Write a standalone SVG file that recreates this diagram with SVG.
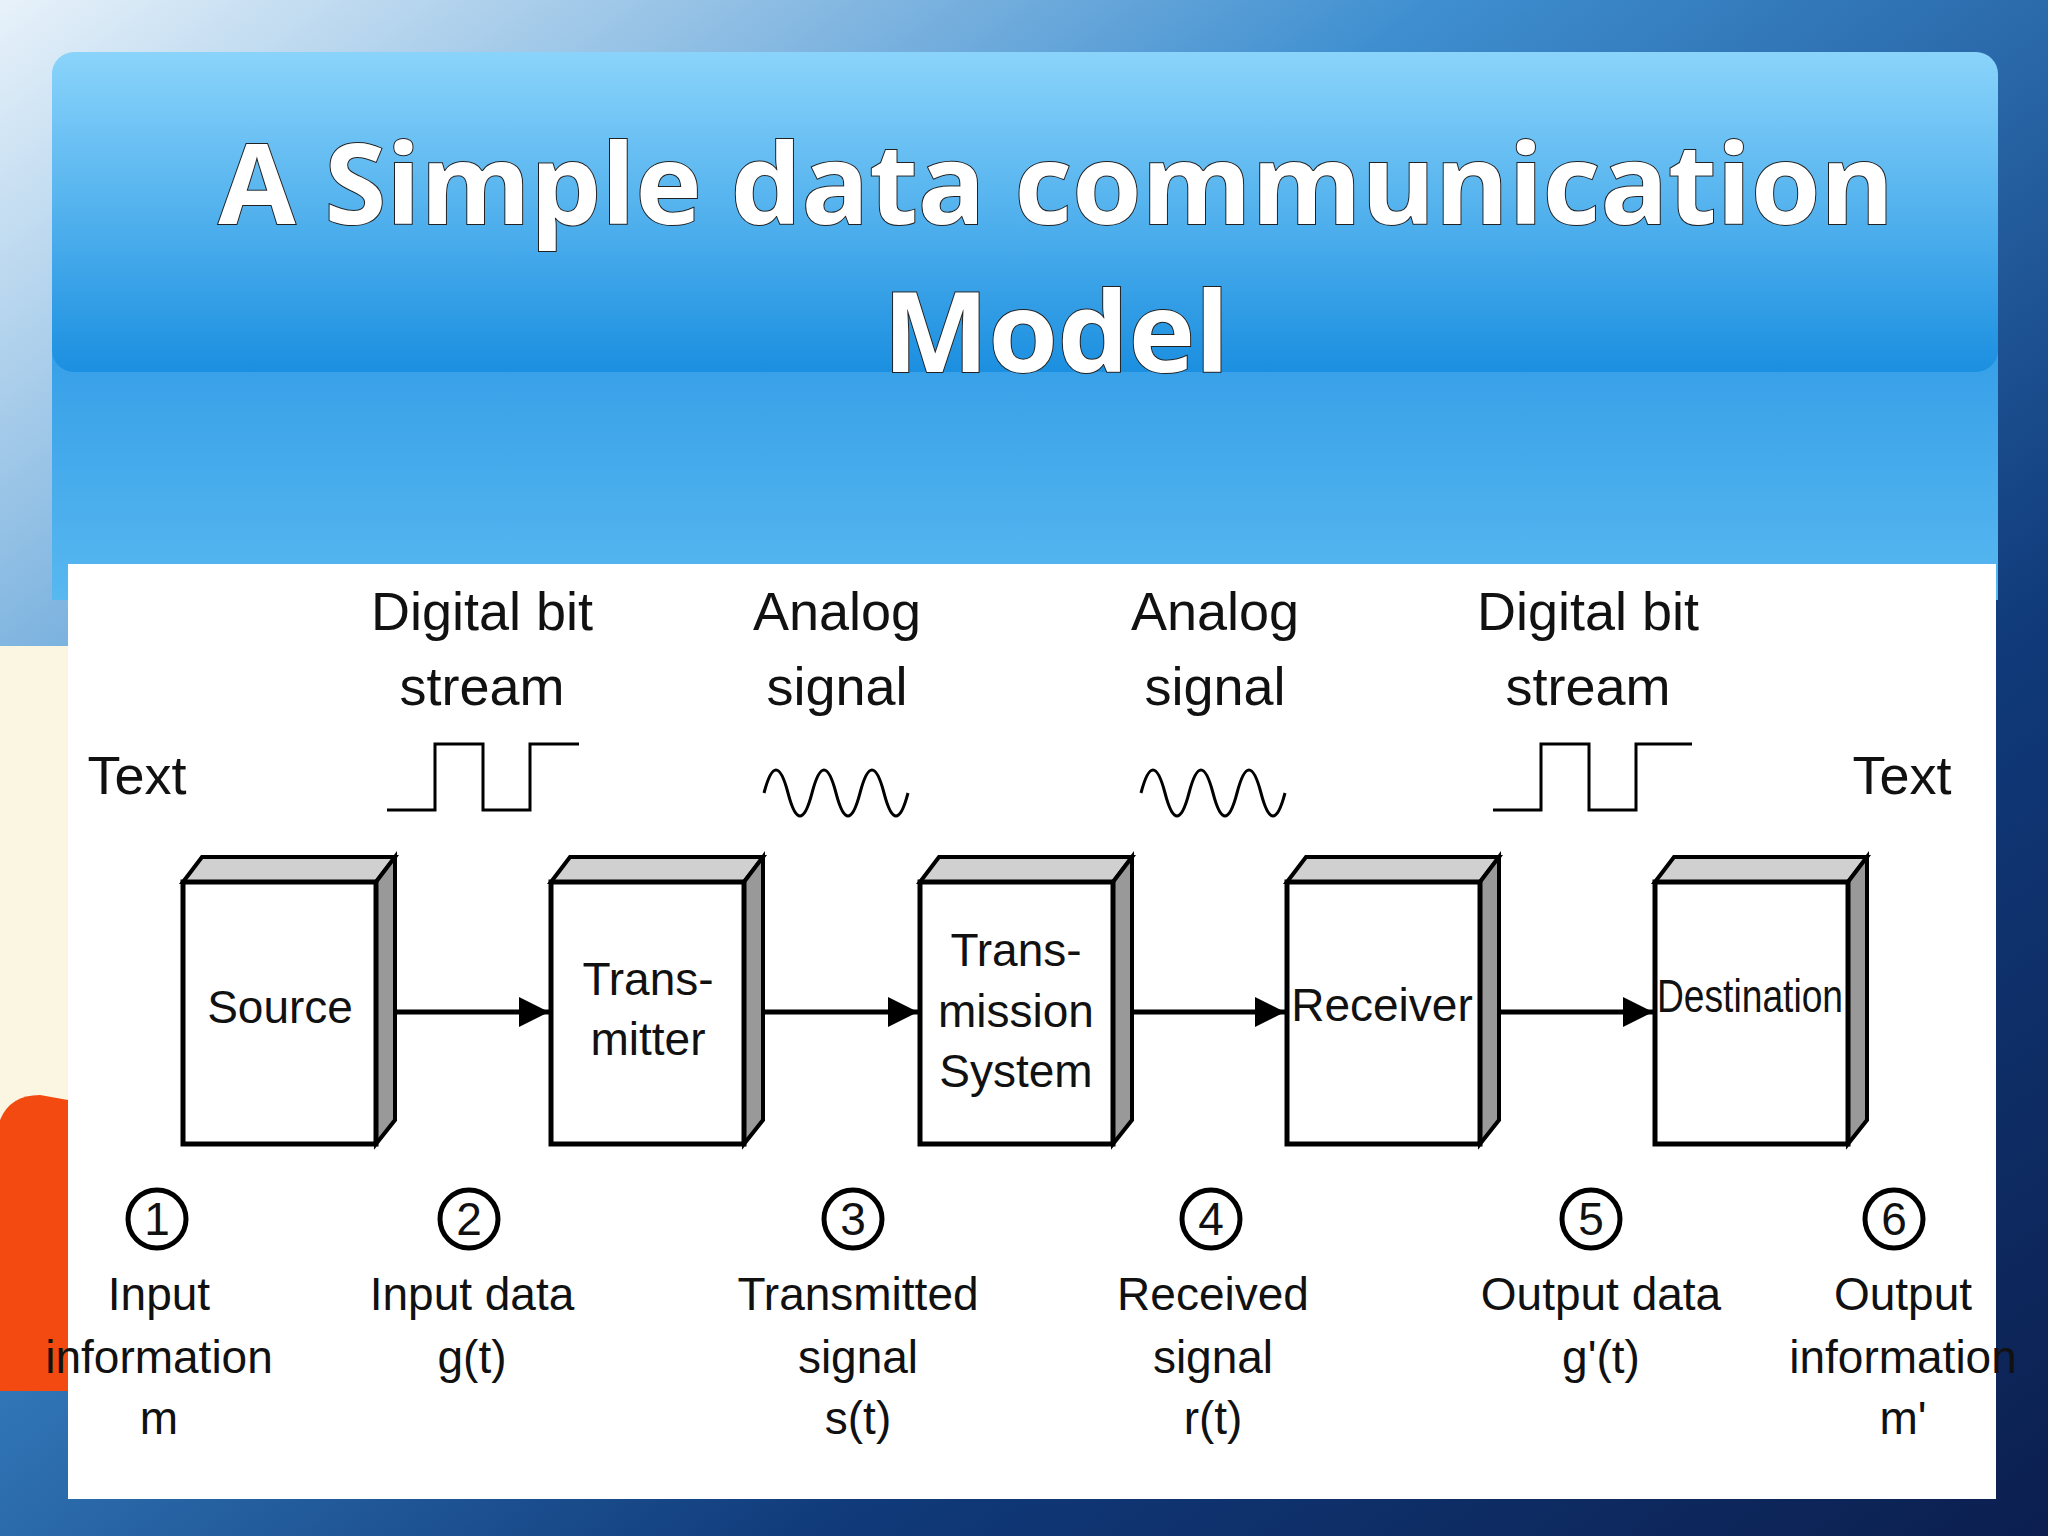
<svg xmlns="http://www.w3.org/2000/svg" width="2048" height="1536" viewBox="0 0 2048 1536">
<defs>
<linearGradient id="bg" x1="0" y1="0" x2="1" y2="1"><stop offset="0" stop-color="#e8f2fa"/><stop offset="0.35" stop-color="#3f8fd0"/><stop offset="0.7" stop-color="#103a7a"/><stop offset="1" stop-color="#0c1f4f"/></linearGradient>
<linearGradient id="ban" x1="0" y1="0" x2="0" y2="1"><stop offset="0" stop-color="#8ad4fb"/><stop offset="1" stop-color="#1b8fe0"/></linearGradient>
<linearGradient id="low" x1="0" y1="0" x2="0" y2="1"><stop offset="0" stop-color="#2f9ae6"/><stop offset="1" stop-color="#58b8f0"/></linearGradient>
<marker id="ah" viewBox="0 0 10 10" refX="10" refY="5" markerWidth="6" markerHeight="6" orient="auto"><path d="M0,0 L10,5 L0,10 z" fill="#000"/></marker>
</defs>
<style>
.t{font-family:"Liberation Sans",Arial,sans-serif;fill:#111;font-size:54px;text-anchor:middle}
.b{font-family:"Liberation Sans",Arial,sans-serif;fill:#111;font-size:46px;text-anchor:middle}
.front{fill:#fff;stroke:#000;stroke-width:5}
.top{fill:#d0d0d0;stroke:#000;stroke-width:4}
.side{fill:#999;stroke:#000;stroke-width:4}
.w{fill:none;stroke:#000;stroke-width:3}
.c{fill:#fff;stroke:#000;stroke-width:5}
.title{font-family:"Open Sans",sans-serif;font-weight:bold;font-size:112px;fill:#fff;text-anchor:middle;stroke:#222;stroke-width:2;paint-order:stroke}
</style>
<rect width="2048" height="1536" fill="url(#bg)"/>
<rect x="52" y="300" width="1946" height="300" fill="url(#low)"/>
<rect x="52" y="52" width="1946" height="320" rx="22" fill="url(#ban)"/>
<rect x="0" y="646" width="68" height="745" fill="#fbf6e2"/>
<path d="M0,1120 Q10,1095 40,1095 L68,1100 L68,1391 L0,1391 z" fill="#f24a10"/>
<text class="title" x="1056" y="224">A Simple data communication</text>
<text class="title" x="1056" y="372">Model</text>
<rect x="68" y="564" width="1928" height="935" fill="#fff"/>

<text class="t" x="482" y="630">Digital bit</text><text class="t" x="482" y="705">stream</text>
<text class="t" x="837" y="630">Analog</text><text class="t" x="837" y="705">signal</text>
<text class="t" x="1215" y="630">Analog</text><text class="t" x="1215" y="705">signal</text>
<text class="t" x="1588" y="630">Digital bit</text><text class="t" x="1588" y="705">stream</text>
<text class="t" x="137" y="794">Text</text><text class="t" x="1902" y="794">Text</text>
<polyline class="w" points="387,810 435,810 435,744 483,744 483,810 530,810 530,744 579,744"/>
<polyline class="w" points="1493,810 1541,810 1541,744 1589,744 1589,810 1636,810 1636,744 1692,744"/>
<path class="w" d="M764,793 q12,-46 24,0 t24,0 t24,0 t24,0 t24,0 t24,0 "/>
<path class="w" d="M1141,793 q12,-46 24,0 t24,0 t24,0 t24,0 t24,0 t24,0 "/>

<g id="connectors">
<line x1="394" y1="1012" x2="549" y2="1012" stroke="#000" stroke-width="5" marker-end="url(#ah)"/>
<line x1="763" y1="1012" x2="918" y2="1012" stroke="#000" stroke-width="5" marker-end="url(#ah)"/>
<line x1="1131" y1="1012" x2="1285" y2="1012" stroke="#000" stroke-width="5" marker-end="url(#ah)"/>
<line x1="1499" y1="1012" x2="1653" y2="1012" stroke="#000" stroke-width="5" marker-end="url(#ah)"/>
</g>

<g id="source"><polygon class="top" points="183,882 202,857 395,857 376,882"/><polygon class="side" points="376,882 395,857 395,1120 376,1144"/><rect class="front" x="183" y="882" width="193" height="262"/><text class="b" x="280" y="1023">Source</text></g>
<g id="transmitter"><polygon class="top" points="551,882 570,857 763,857 744,882"/><polygon class="side" points="744,882 763,857 763,1120 744,1144"/><rect class="front" x="551" y="882" width="193" height="262"/><text class="b" x="648" y="995">Trans-</text><text class="b" x="648" y="1055">mitter</text></g>
<g id="transmission"><polygon class="top" points="920,882 939,857 1132,857 1113,882"/><polygon class="side" points="1113,882 1132,857 1132,1120 1113,1144"/><rect class="front" x="920" y="882" width="193" height="262"/><text class="b" x="1016" y="966">Trans-</text><text class="b" x="1016" y="1027">mission</text><text class="b" x="1016" y="1087">System</text></g>
<g id="receiver"><polygon class="top" points="1287,882 1306,857 1499,857 1480,882"/><polygon class="side" points="1480,882 1499,857 1499,1120 1480,1144"/><rect class="front" x="1287" y="882" width="193" height="262"/><text class="b" x="1382" y="1021">Receiver</text></g>
<g id="destination"><polygon class="top" points="1655,882 1674,857 1867,857 1848,882"/><polygon class="side" points="1848,882 1867,857 1867,1120 1848,1144"/><rect class="front" x="1655" y="882" width="193" height="262"/><text class="b" x="1750" y="1012" textLength="186" lengthAdjust="spacingAndGlyphs">Destination</text></g>

<g id="labels">
<circle class="c" cx="157" cy="1219" r="29"/><text class="b" x="157" y="1235">1</text>
<circle class="c" cx="469" cy="1219" r="29"/><text class="b" x="469" y="1235">2</text>
<circle class="c" cx="853" cy="1219" r="29"/><text class="b" x="853" y="1235">3</text>
<circle class="c" cx="1211" cy="1219" r="29"/><text class="b" x="1211" y="1235">4</text>
<circle class="c" cx="1591" cy="1219" r="29"/><text class="b" x="1591" y="1235">5</text>
<circle class="c" cx="1894" cy="1219" r="29"/><text class="b" x="1894" y="1235">6</text>
<text class="b" x="159" y="1310">Input</text><text class="b" x="159" y="1373">information</text><text class="b" x="159" y="1434">m</text>
<text class="b" x="472" y="1310">Input data</text><text class="b" x="472" y="1373">g(t)</text>
<text class="b" x="858" y="1310">Transmitted</text><text class="b" x="858" y="1373">signal</text><text class="b" x="858" y="1434">s(t)</text>
<text class="b" x="1213" y="1310">Received</text><text class="b" x="1213" y="1373">signal</text><text class="b" x="1213" y="1434">r(t)</text>
<text class="b" x="1601" y="1310">Output data</text><text class="b" x="1601" y="1373">g'(t)</text>
<text class="b" x="1903" y="1310">Output</text><text class="b" x="1903" y="1373">information</text><text class="b" x="1903" y="1434">m'</text>
</g>
</svg>
